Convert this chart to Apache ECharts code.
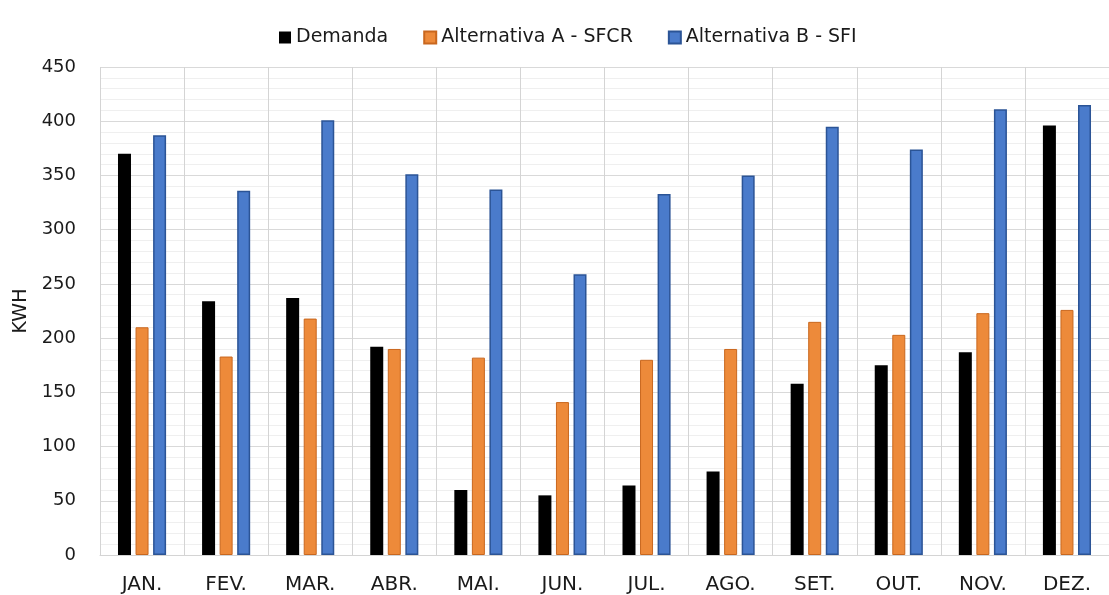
<!DOCTYPE html>
<html>
<head>
<meta charset="utf-8">
<script src="https://cdn.jsdelivr.net/npm/echarts@6/dist/echarts.min.js"></script>
<style>
html,body{margin:0;padding:0;background:#fff;}
#chart{width:1109px;height:595px;}
</style>
</head>
<body>
<div id="chart"></div>
<script>
var categories = ['JAN.', 'FEV.', 'MAR.', 'ABR.', 'MAI.', 'JUN.', 'JUL.', 'AGO.', 'SET.', 'OUT.', 'NOV.', 'DEZ.'];
var seriesNames = ['Demanda', 'Alternativa A - SFCR', 'Alternativa B - SFI'];
var demanda = [370, 234, 237, 192, 60, 55, 64, 77, 158, 175, 187, 396];
var alternativaA = [210, 183, 218, 190, 182, 141, 180, 190, 215, 203, 223, 226];
var alternativaB = [387, 336, 401, 351, 337, 259, 333, 350, 395, 374, 411, 415];
var yTicks = [0, 50, 100, 150, 200, 250, 300, 350, 400, 450];
var yName = 'KWH';

var chart = echarts.init(document.getElementById('chart'), null, {renderer: 'canvas'});
var font = 'DejaVu Sans';
var sq = 'path://M0,0h12v12h-12z';
chart.setOption({
  animation: false,
  backgroundColor: '#ffffff',
  legend: {
    left: 274, top: 23,
    itemWidth: 12, itemHeight: 12, itemGap: 35,
    textStyle: {fontFamily: font, fontSize: 19, color: '#1a1a1a'},
    data: [
      {name: seriesNames[0], icon: sq},
      {name: seriesNames[1], icon: sq},
      {name: seriesNames[2], icon: sq}
    ]
  },
  grid: {left: 100, top: 67, width: 1018, height: 489, containLabel: false},
  xAxis: {
    type: 'category',
    data: categories,
    axisLine: {show: true, lineStyle: {color: '#d4d4d4', width: 1}},
    axisTick: {show: false},
    splitLine: {show: true, lineStyle: {color: '#d4d4d4', width: 1}},
    axisLabel: {fontFamily: font, fontSize: 20, color: '#1a1a1a', margin: 20, interval: 0}
  },
  yAxis: {
    type: 'value',
    min: yTicks[0], max: yTicks[yTicks.length - 1], interval: 50,
    name: yName,
    nameLocation: 'middle',
    nameGap: 66,
    nameRotate: 90,
    nameTextStyle: {fontFamily: font, fontSize: 19, color: '#1a1a1a'},
    axisLine: {show: false},
    axisTick: {show: false},
    axisLabel: {fontFamily: font, fontSize: 18, color: '#1a1a1a', margin: 24},
    splitLine: {show: true, lineStyle: {color: '#d9d9d9', width: 1}},
    minorTick: {show: false, splitNumber: 5},
    minorSplitLine: {show: true, lineStyle: {color: '#efefef', width: 1}}
  },
  series: [
    {
      name: seriesNames[0], type: 'bar', data: demanda,
      barWidth: 13, barGap: '35%',
      itemStyle: {color: '#000000', borderColor: '#000000', borderWidth: 0}
    },
    {
      name: seriesNames[1], type: 'bar', data: alternativaA,
      barWidth: 13, barGap: '35%',
      itemStyle: {color: '#ED8A3A', borderColor: '#C9671E', borderWidth: 1}
    },
    {
      name: seriesNames[2], type: 'bar', data: alternativaB,
      barWidth: 13, barGap: '35%',
      itemStyle: {color: '#4A7BCB', borderColor: '#2B5496', borderWidth: 1.5}
    }
  ]
});
</script>
</body>
</html>
